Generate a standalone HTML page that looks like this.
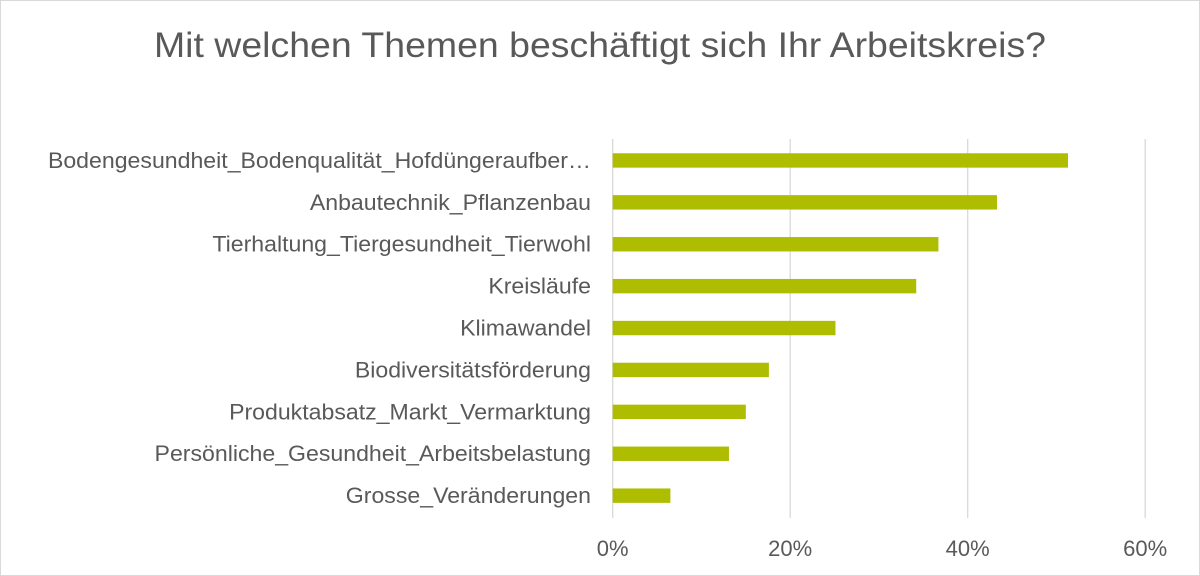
<!DOCTYPE html>
<html><head><meta charset="utf-8"><style>
html,body{margin:0;padding:0;background:#fff}
svg{display:block;font-family:"Liberation Sans",Arial,sans-serif}
</style></head><body>
<svg id="chart" width="1200" height="576">
<rect x="0.5" y="0.5" width="1199" height="575" fill="#fff" stroke="#d9d9d9"/>
<text x="600" y="57" text-anchor="middle" font-size="35" fill="#595959" transform="translate(600,0) scale(1.07,1) translate(-600,0)">Mit welchen Themen beschäftigt sich Ihr Arbeitskreis?</text>
<g id="grid"></g><g id="bars"></g><g id="labels"></g><g id="ticks"></g>
</svg>
<script>
const categories=["Bodengesundheit_Bodenqualität_Hofdüngeraufber…","Anbautechnik_Pflanzenbau","Tierhaltung_Tiergesundheit_Tierwohl","Kreisläufe","Klimawandel","Biodiversitätsförderung","Produktabsatz_Markt_Vermarktung","Persönliche_Gesundheit_Arbeitsbelastung","Grosse_Veränderungen"];
const values=[51.3,43.3,36.7,34.2,25.1,17.6,15.0,13.1,6.5];
const tickValues=[0,20,40,60];
const tickLabels=["0%","20%","40%","60%"];
const NS="http://www.w3.org/2000/svg";
const x0=612.7,pxPer=8.875;
const xs=v=>x0+v*pxPer;
const yTop=139.5,step=41.9;
const yc=i=>yTop+step*(i+0.5);
function mk(t,a,p){const e=document.createElementNS(NS,t);for(const k in a)e.setAttribute(k,a[k]);p.appendChild(e);return e;}
const g=document.getElementById('grid'),b=document.getElementById('bars'),l=document.getElementById('labels'),tk=document.getElementById('ticks');
tickValues.forEach((v,i)=>{
 const ln=mk('line',{x1:xs(v),x2:xs(v),y1:139,y2:518,stroke:'#d9d9d9','stroke-width':1.3},g);
 
 
 const t=mk('text',{x:xs(v),y:556,'text-anchor':'middle','font-size':22,fill:'#595959'},tk);
 t.textContent=tickLabels[i];
 
 
});
categories.forEach((c,i)=>{
 const r=mk('rect',{x:x0,y:yc(i)-7.2,width:xs(values[i])-x0,height:14.4,fill:'#aebd00'},b);
 
 
 const t=mk('text',{x:591,y:yc(i)+7.5,'text-anchor':'end','font-size':22,fill:'#595959',transform:'translate(591,0) scale(1.05,1) translate(-591,0)'},l);
 t.textContent=c;
 
 
});
</script>
</body></html>
